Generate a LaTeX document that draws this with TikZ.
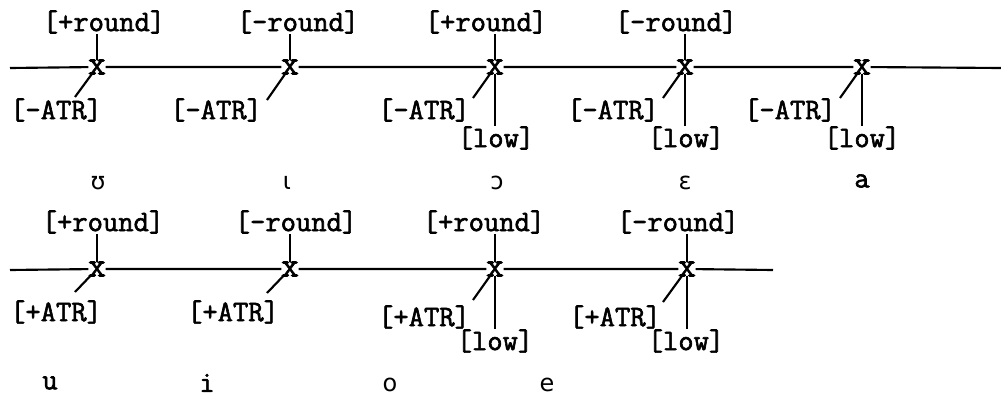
\documentclass[tikz,border=0pt]{standalone}
\usepackage{fontspec}
\newfontfamily\tw{Latin Modern Mono}[FakeBold=2]
\newfontfamily\ipafont{DejaVu Sans}
\tikzset{
  feat/.style={font=\tw\fontsize{22.3}{24}\selectfont, inner sep=0pt},
  xm/.style={font=\tw\fontsize{26}{28}\selectfont, inner sep=0pt, outer sep=-0.3pt},
  vow/.style={font=\ipafont\fontsize{18}{20}\selectfont, inner sep=0pt},
  vowtt/.style={font=\tw\fontsize{22.3}{24}\selectfont, inner sep=0pt},
  link/.style={line width=1.6pt}
}
\begin{document}
\begin{tikzpicture}[x=0.75pt,y=-0.75pt]
\useasboundingbox (0,0) rectangle (1001,400);
% ---------- row 1 ----------
\coordinate (s1) at (10,68);
\coordinate (e1) at (1001,68);
\node[xm] (x11) at (97,67) {x};
\node[xm] (x12) at (290,67) {x};
\node[xm] (x13) at (495,67) {x};
\node[xm] (x14) at (685,67) {x};
\node[xm] (x15) at (862,67) {x};
\node[feat] (r11) at (104,22) {[+round]};
\node[feat] (r12) at (298,22) {[-round]};
\node[feat] (r13) at (486,22) {[+round]};
\node[feat] (r14) at (676,22) {[-round]};
\node[feat] (a11) at (56,110) {[-ATR]};
\node[feat] (a12) at (216,110) {[-ATR]};
\node[feat] (a13) at (424,110) {[-ATR]};
\node[feat] (a14) at (613,110) {[-ATR]};
\node[feat] (a15) at (790,110) {[-ATR]};
\node[feat] (l13) at (496,138) {[low]};
\node[feat] (l14) at (686,138) {[low]};
\node[feat] (l15) at (862,138) {[low]};
\coordinate (d11) at (75,97);
\coordinate (d12) at (267,100);
\coordinate (d13) at (473,98);
\coordinate (d14) at (663,98);
\coordinate (d15) at (840,98);
\node[vow] (v11) at (98,183) {ʊ};
\node[vow] (v12) at (287,183) {ɩ};
\node[vow] (v13) at (497,183) {ɔ};
\node[vow] (v14) at (685,183) {ɛ};
\node[vowtt] (v15) at (862,181) {a};
\draw[link] (s1) -- (x11) -- (x12) -- (x13) -- (x14) -- (x15) -- (e1);
\foreach \i in {1,2,3,4} \draw[link] (r1\i.south -| x1\i) -- (x1\i.north);
\foreach \i in {1,...,5} \draw[link] (x1\i) -- (d1\i);
\foreach \i in {3,4,5} \draw[link] (x1\i.south) -- (x1\i |- l1\i.north);
% ---------- row 2 ----------
\coordinate (s2) at (10,270);
\coordinate (e2) at (773,270);
\node[xm] (x21) at (97,269) {x};
\node[xm] (x22) at (290,269) {x};
\node[xm] (x23) at (495,269) {x};
\node[xm] (x24) at (687,269) {x};
\node[feat] (r21) at (103,222) {[+round]};
\node[feat] (r22) at (296,222) {[-round]};
\node[feat] (r23) at (484,222) {[+round]};
\node[feat] (r24) at (678,222) {[-round]};
\node[feat] (a21) at (56,312) {[+ATR]};
\node[feat] (a22) at (233,312) {[+ATR]};
\node[feat] (a23) at (424,317) {[+ATR]};
\node[feat] (a24) at (615,317) {[+ATR]};
\node[feat] (l23) at (495,341) {[low]};
\node[feat] (l24) at (686,341) {[low]};
\coordinate (d21) at (75,292);
\coordinate (d22) at (267,293);
\coordinate (d23) at (473,300);
\coordinate (d24) at (663,302);
\node[vowtt] (v21) at (50,383) {u};
\node[vowtt] (v22) at (207,383) {i};
\node[vow] (v23) at (390,385) {o};
\node[vow] (v24) at (547,385) {e};
\draw[link] (s2) -- (x21) -- (x22) -- (x23) -- (x24) -- (e2);
\foreach \i in {1,2,3,4} \draw[link] (r2\i.south -| x2\i) -- (x2\i.north);
\foreach \i in {1,...,4} \draw[link] (x2\i) -- (d2\i);
\foreach \i in {3,4} \draw[link] (x2\i.south) -- (x2\i |- l2\i.north);
\end{tikzpicture}
\end{document}
